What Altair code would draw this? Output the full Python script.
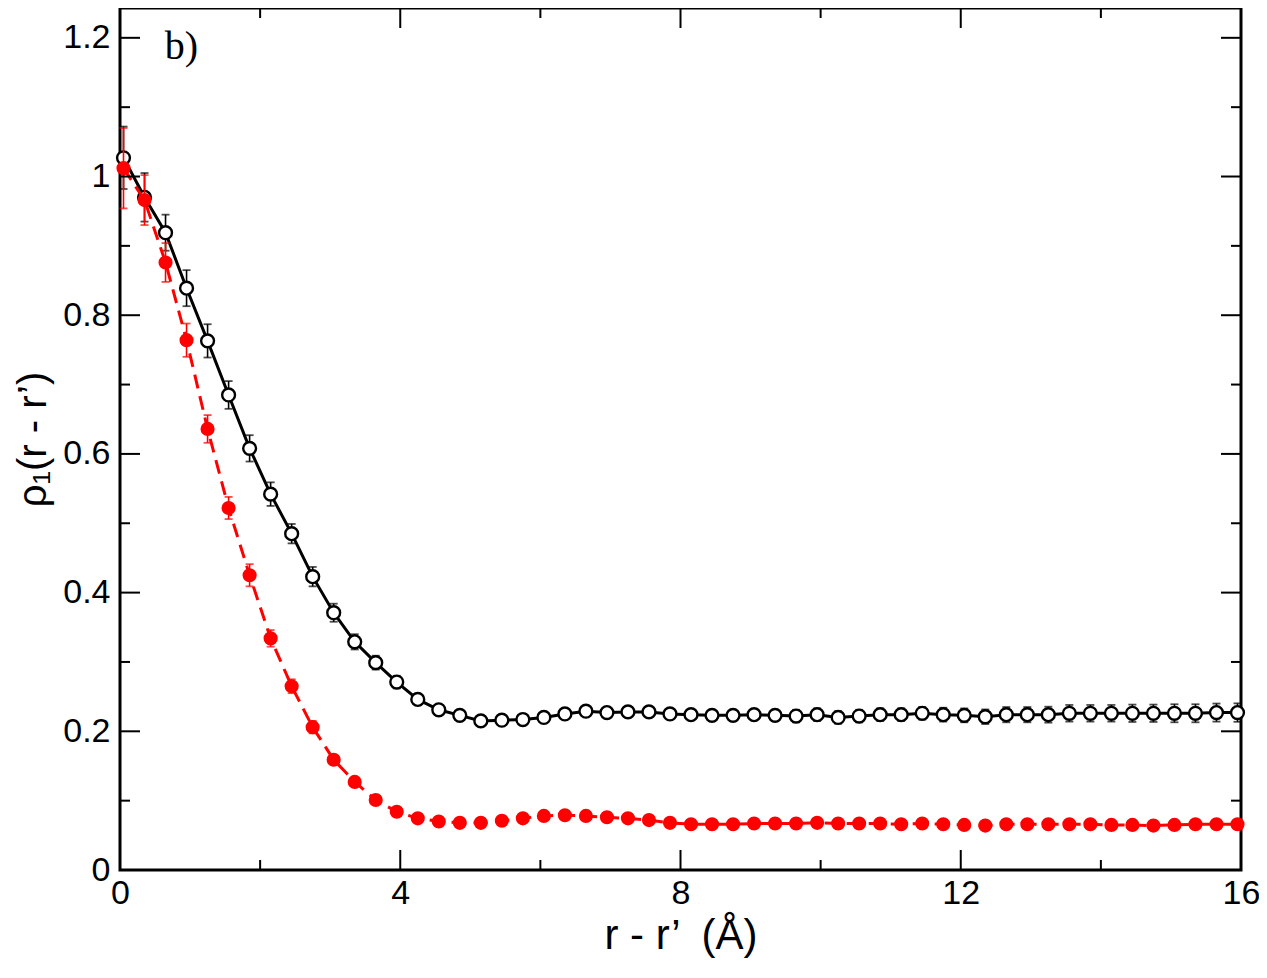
import altair as alt
import pandas as pd

# distance r - r' (Angstrom)
r = [0.05, 0.35, 0.65, 0.95, 1.25, 1.55, 1.85, 2.15, 2.45, 2.75,
     3.05, 3.35, 3.65, 3.95, 4.25, 4.55, 4.85, 5.15, 5.45, 5.75,
     6.05, 6.35, 6.65, 6.95, 7.25, 7.55, 7.85, 8.15, 8.45, 8.75,
     9.05, 9.35, 9.65, 9.95, 10.25, 10.55, 10.85, 11.15, 11.45, 11.75,
     12.05, 12.35, 12.65, 12.95, 13.25, 13.55, 13.85, 14.15, 14.45, 14.75,
     15.05, 15.35, 15.65, 15.95]

# open black circles (solid line)
rho_open = [1.027, 0.970, 0.919, 0.839, 0.763, 0.685, 0.608, 0.542, 0.485, 0.423,
            0.371, 0.329, 0.299, 0.271, 0.246, 0.231, 0.223, 0.215, 0.216, 0.217,
            0.220, 0.225, 0.229, 0.227, 0.228, 0.228, 0.225, 0.224, 0.223, 0.223,
            0.224, 0.223, 0.222, 0.224, 0.220, 0.222, 0.224, 0.224, 0.226, 0.224,
            0.223, 0.221, 0.224, 0.224, 0.224, 0.226, 0.226, 0.226, 0.226, 0.226,
            0.226, 0.226, 0.227, 0.227]
err_open = [0.045, 0.035, 0.026, 0.026, 0.024, 0.020, 0.019, 0.017, 0.014, 0.014,
            0.013, 0.011, 0.010, 0.009, 0.008, 0.007, 0.007, 0.007, 0.007, 0.007,
            0.007, 0.007, 0.007, 0.007, 0.007, 0.007, 0.007, 0.007, 0.008, 0.008,
            0.008, 0.008, 0.009, 0.009, 0.009, 0.009, 0.009, 0.009, 0.009, 0.010,
            0.010, 0.0105, 0.011, 0.011, 0.0115, 0.012, 0.012, 0.012, 0.0125, 0.0125,
            0.013, 0.013, 0.013, 0.0133]

# filled red circles (dashed line)
rho_filled = [1.012, 0.966, 0.876, 0.764, 0.636, 0.522, 0.425, 0.334, 0.265, 0.206,
              0.159, 0.127, 0.101, 0.084, 0.0745, 0.070, 0.068, 0.068, 0.071, 0.0745,
              0.078, 0.079, 0.078, 0.076, 0.0745, 0.072, 0.068, 0.066, 0.066, 0.066,
              0.067, 0.067, 0.067, 0.068, 0.067, 0.067, 0.067, 0.066, 0.067, 0.066,
              0.065, 0.064, 0.066, 0.066, 0.066, 0.066, 0.066, 0.065, 0.065, 0.064,
              0.065, 0.066, 0.066, 0.066]
err_filled = [0.058, 0.036, 0.028, 0.024, 0.020, 0.016, 0.016, 0.012, 0.010, 0.009,
              0.007, 0.006, 0.006, 0.006, 0.005, 0.005, 0.005, 0.005, 0.005, 0.005,
              0.005, 0.005, 0.005, 0.005, 0.005, 0.005, 0.005, 0.005, 0.005, 0.005,
              0.005, 0.005, 0.005, 0.005, 0.005, 0.005, 0.005, 0.005, 0.005, 0.005,
              0.005, 0.005, 0.005, 0.005, 0.005, 0.005, 0.005, 0.005, 0.005, 0.005,
              0.005, 0.005, 0.005, 0.005]

x_major = [0, 4, 8, 12, 16]
x_minor = [2, 6, 10, 14]
y_major = [0, 0.2, 0.4, 0.6, 0.8, 1.0, 1.2]
y_minor = [0.1, 0.3, 0.5, 0.7, 0.9, 1.1]

W, H = 1121, 862
FONT = "Liberation Sans"
RED = "#ff0000"

xs = alt.Scale(domain=[0, 16], nice=False, zero=False)
ys = alt.Scale(domain=[0, 1.243], nice=False, zero=False)

open_df = pd.DataFrame({"r": r, "rho": rho_open, "err": err_open})
filled_df = pd.DataFrame({"r": r, "rho": rho_filled, "err": err_filled})

X_AX = alt.Axis(values=x_major, format="~g", title="r - r\u2019\u2002(\u00c5)",
                ticks=False, tickSize=0, domain=False, grid=False, labelFlush=False,
                labelPadding=6, labelFontSize=34, titleFontSize=42,
                titlePadding=5, labelFont=FONT, titleFont=FONT,
                labelColor="black", titleColor="black", titleFontWeight="normal")
Y_AX = alt.Axis(values=y_major, format="~g", title="\u03c1\u2081(r - r\u2019)",
                ticks=False, tickSize=0, domain=False, grid=False, labelFlush=False,
                labelPadding=10, labelFontSize=34, titleFontSize=40,
                titlePadding=9, labelFont=FONT, titleFont=FONT,
                labelColor="black", titleColor="black", titleFontWeight="normal")


def X(field):
    return alt.X(field, scale=xs, axis=X_AX)


def Y(field):
    return alt.Y(field, scale=ys, axis=Y_AX)


def base(df):
    return alt.Chart(df).transform_calculate(
        lo="datum.rho - datum.err", hi="datum.rho + datum.err"
    )


def series(df, color, dash, filled):
    b = base(df)
    line_kw = dict(color=color, strokeWidth=3)
    if dash:
        line_kw["strokeDash"] = dash
    line = b.mark_line(**line_kw).encode(x=X("r:Q"), y=Y("rho:Q"))
    bar = b.mark_rule(color=color, strokeWidth=1.6).encode(
        x=X("r:Q"), y=Y("lo:Q"), y2="hi:Q")
    cap_lo = b.mark_tick(orient="horizontal", color=color, size=8, thickness=1.8).encode(
        x=X("r:Q"), y=Y("lo:Q"))
    cap_hi = b.mark_tick(orient="horizontal", color=color, size=8, thickness=1.8).encode(
        x=X("r:Q"), y=Y("hi:Q"))
    if filled:
        pts = b.mark_circle(color=color, size=200, opacity=1)
    else:
        pts = b.mark_point(shape="circle", size=165, fill="white", stroke=color,
                           strokeWidth=2.4, filled=True, opacity=1)
    pts = pts.encode(x=X("r:Q"), y=Y("rho:Q"))
    return [line, bar, cap_lo, cap_hi, pts]


def xticks(vals, length):
    df = pd.DataFrame({"r": vals})
    bot = alt.Chart(df).mark_rule(color="black", strokeWidth=2).encode(
        x=X("r:Q"), y=alt.value(H), y2=alt.value(H - length))
    top = alt.Chart(df).mark_rule(color="black", strokeWidth=2).encode(
        x=X("r:Q"), y=alt.value(0), y2=alt.value(length))
    return [bot, top]


def yticks(vals, length):
    df = pd.DataFrame({"rho": vals})
    left = alt.Chart(df).mark_rule(color="black", strokeWidth=2).encode(
        y=Y("rho:Q"), x=alt.value(0), x2=alt.value(length))
    right = alt.Chart(df).mark_rule(color="black", strokeWidth=2).encode(
        y=Y("rho:Q"), x=alt.value(W), x2=alt.value(W - length))
    return [left, right]


label_df = pd.DataFrame({"r": [0.64], "rho": [1.17], "t": ["b)"]})
label = alt.Chart(label_df).mark_text(
    font="Liberation Serif", fontSize=40, align="left", baseline="alphabetic", color="black"
).encode(x=X("r:Q"), y=Y("rho:Q"), text="t:N")

layers = (series(open_df, "black", None, False)
          + series(filled_df, RED, [14, 8], True)
          + xticks(x_major, 20) + xticks(x_minor, 10)
          + yticks(y_major, 20) + yticks(y_minor, 10)
          + [label])

chart = alt.layer(*layers).properties(
    width=W, height=H,
    autosize=alt.AutoSizeParams(type="none"),
    padding={"left": 112, "top": 0, "right": 18, "bottom": 100},
    background="white",
).configure_view(stroke="black", strokeWidth=3)

chart.save("out.html", embed_options={"renderer": "svg", "actions": False})
